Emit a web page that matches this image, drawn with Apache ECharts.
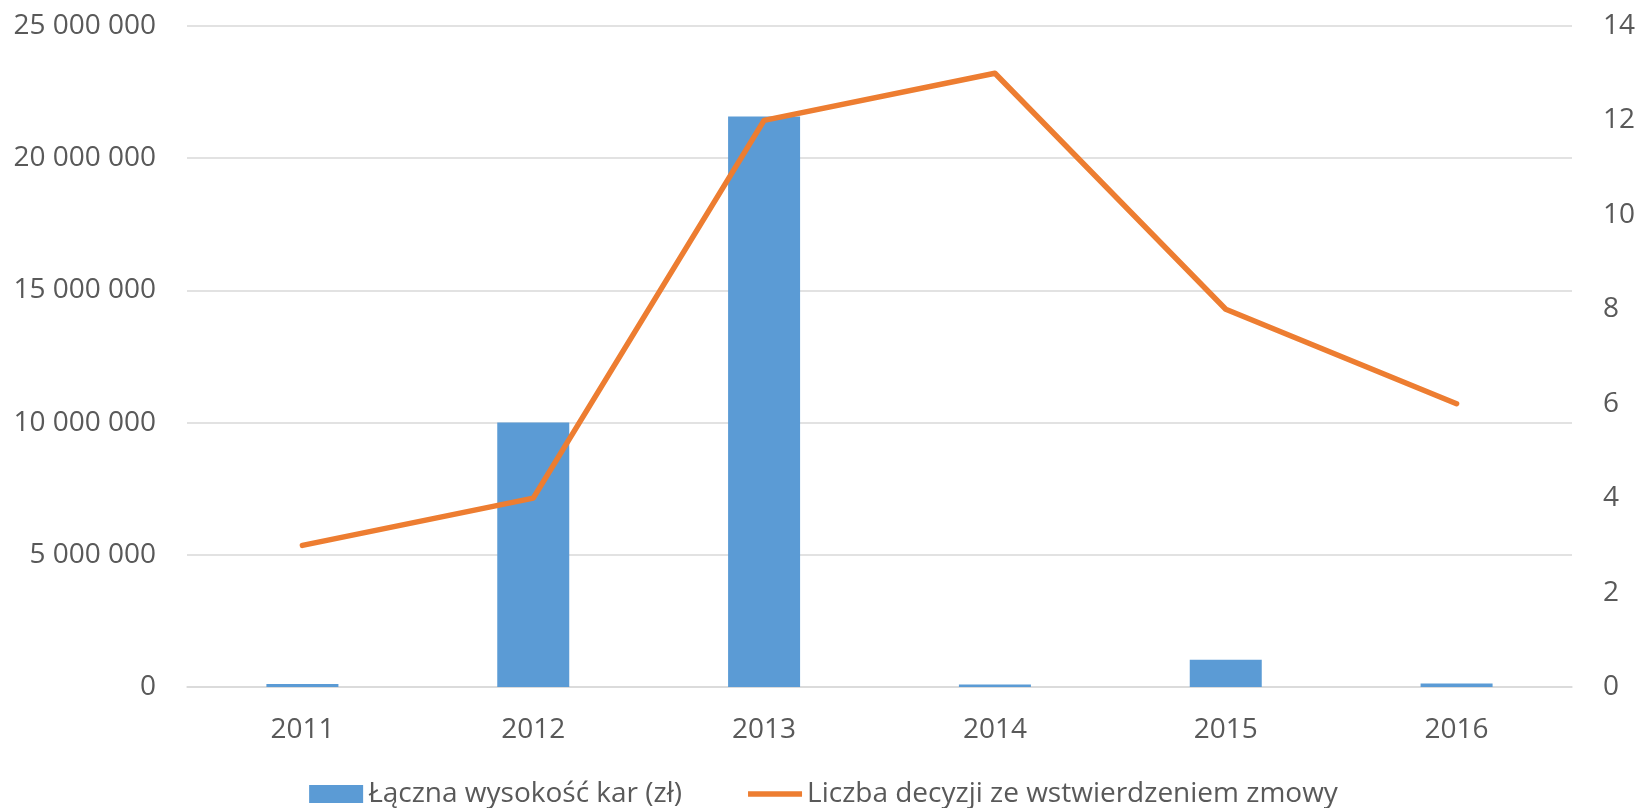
<!DOCTYPE html>
<html>
<head>
<meta charset="utf-8">
<script src="https://cdn.jsdelivr.net/npm/echarts@6/dist/echarts.min.js"></script>
<style>
  html, body { margin: 0; padding: 0; background: #fff; }
  #chart { width: 1647px; height: 808px; }
</style>
</head>
<body>
<div id="chart"></div>
<script>
var years = ['2011', '2012', '2013', '2014', '2015', '2016'];
var fines = [110000, 10000000, 21580000, 90000, 1030000, 130000];
var decisions = [3, 4, 12, 13, 8, 6];
var fineName = 'Łączna wysokość kar (zł)';
var decisionName = 'Liczba decyzji ze wstwierdzeniem zmowy';

function spaced(v) {
    return String(v).replace(/\B(?=(\d{3})+(?!\d))/g, ' ');
}

var chart = echarts.init(document.getElementById('chart'));
var labelFont = { color: '#595959', fontSize: 28, fontFamily: 'Open Sans' };

var option = {
    animation: false,
    grid: { left: 187, right: 75, top: 26, bottom: 121 },
    legend: {
        top: 775,
        left: 'center',
        itemWidth: 54,
        itemHeight: 18,
        itemGap: 66,
        textStyle: { color: '#595959', fontSize: 28, fontFamily: 'Open Sans' },
        data: [
            { name: fineName, icon: 'rect' },
            { name: decisionName, icon: 'path://M0,0 L54,0 L54,5.5 L0,5.5 Z', itemStyle: { color: '#ed7d31' } }
        ]
    },
    xAxis: {
        type: 'category',
        data: years,
        axisTick: { show: false },
        axisLine: { lineStyle: { color: '#d9d9d9', width: 1.5 } },
        axisLabel: Object.assign({ margin: 29 }, labelFont)
    },
    yAxis: [{
        type: 'value',
        min: 0,
        max: 25000000,
        interval: 5000000,
        axisLabel: Object.assign({ margin: 31, formatter: spaced }, labelFont),
        splitLine: { lineStyle: { color: '#d9d9d9', width: 1.5 } }
    }, {
        type: 'value',
        min: 0,
        max: 14,
        interval: 2,
        alignTicks: false,
        axisLabel: Object.assign({ margin: 31 }, labelFont),
        splitLine: { show: false }
    }],
    series: [{
        name: fineName,
        type: 'bar',
        data: fines,
        barWidth: 72,
        itemStyle: { color: '#5b9bd5' }
    }, {
        name: decisionName,
        type: 'line',
        yAxisIndex: 1,
        data: decisions,
        symbol: 'none',
        lineStyle: { color: '#ed7d31', width: 5.5, cap: 'round', join: 'round' },
        itemStyle: { color: '#ed7d31' }
    }]
};

chart.setOption(option);
</script>
</body>
</html>
